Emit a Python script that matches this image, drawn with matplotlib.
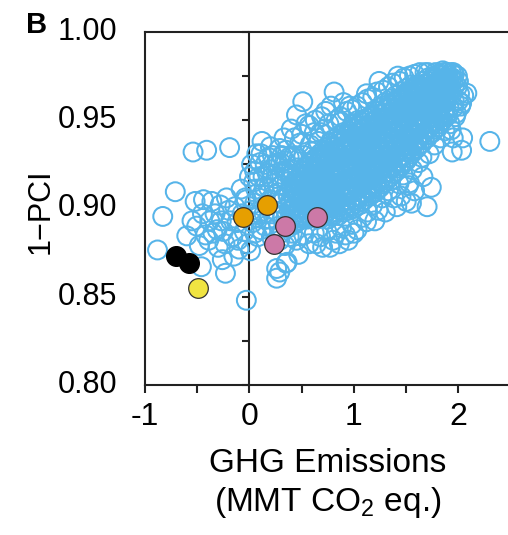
import numpy as np
import matplotlib
matplotlib.use("Agg")
import matplotlib.pyplot as plt
from matplotlib.ticker import MultipleLocator

plt.rcParams['font.family'] = ['Liberation Sans', 'DejaVu Sans']
plt.rcParams['mathtext.fontset'] = 'custom'
plt.rcParams['mathtext.rm'] = 'Liberation Sans'

# scenario runs: (GHG emissions, 1-PCI), scattered points away from the main band
runs_outer = [
    (-0.88, 0.8765), (-0.83, 0.8955), (-0.71, 0.9095), (-0.60, 0.8845), (-0.54, 0.932),
    (-0.41, 0.933), (-0.19, 0.9345), (-0.52, 0.904), (-0.505, 0.890), (-0.46, 0.867),
    (-0.39, 0.882), (-0.36, 0.904), (-0.31, 0.888), (-0.28, 0.902), (-0.235, 0.880),
    (-0.23, 0.8633), (-0.20, 0.899), (-0.11, 0.882), (-0.08, 0.911), (-0.03, 0.848),
    (0.07, 0.931), (0.10, 0.926), (0.12, 0.938), (0.29, 0.934), (0.45, 0.953),
    (0.51, 0.9605), (0.54, 0.948), (0.69, 0.952), (0.81, 0.966),
    (0.26, 0.8605), (0.26, 0.866), (0.29, 0.864), (0.35, 0.869), (0.36, 0.8695),
    (0.47, 0.874), (0.64, 0.880), (0.70, 0.878), (0.77, 0.878), (0.80, 0.882),
    (0.945, 0.882), (1.12, 0.8925), (1.41, 0.901), (1.50, 0.904), (1.55, 0.903),
    (1.70, 0.901), (1.74, 0.912), (1.53, 0.9145), (1.94, 0.932), (1.95, 0.940),
    (2.03, 0.933), (2.04, 0.940), (1.93, 0.9445), (1.98, 0.954), (1.89, 0.954),
    (2.03, 0.9596), (2.05, 0.964), (2.08, 0.9653), (2.30, 0.938),
    (0.87, 0.952), (0.96, 0.958), (1.12, 0.965), (1.24, 0.972), (1.42, 0.975),
    (1.71, 0.977), (1.85, 0.978),
]

# runs below zero emissions and just right of it
runs_left = [
    (-0.45, 0.897), (-0.42, 0.885), (-0.38, 0.893), (-0.35, 0.886), (-0.33, 0.897),
    (-0.30, 0.878), (-0.27, 0.893), (-0.25, 0.887), (-0.22, 0.906), (-0.18, 0.893),
    (-0.16, 0.884), (-0.14, 0.901), (-0.12, 0.892), (-0.10, 0.877), (-0.07, 0.897),
    (-0.05, 0.887), (-0.03, 0.905), (-0.02, 0.880), (-0.48, 0.879), (-0.55, 0.893),
    (-0.44, 0.905), (-0.26, 0.871), (-0.15, 0.873), (0.01, 0.876), (0.03, 0.892),
    (0.05, 0.903), (0.04, 0.915), (0.08, 0.884), (0.10, 0.897), (0.12, 0.908),
    (0.13, 0.918), (0.15, 0.890), (0.16, 0.902), (0.18, 0.912), (0.20, 0.922),
    (0.21, 0.884), (0.22, 0.897), (0.24, 0.908), (0.25, 0.917), (0.27, 0.926),
    (0.28, 0.890), (0.30, 0.903), (0.31, 0.913), (0.33, 0.921), (0.34, 0.879),
    (0.35, 0.895), (0.37, 0.907), (0.38, 0.929), (0.39, 0.917), (0.41, 0.886),
    (0.42, 0.900), (0.43, 0.940), (0.44, 0.911), (0.46, 0.923), (0.47, 0.893),
    (0.02, 0.925), (0.00, 0.918), (-0.04, 0.906), (0.06, 0.911), (0.09, 0.918),
    (0.02, 0.899), (0.05, 0.886), (0.07, 0.895), (0.09, 0.906), (0.11, 0.888),
    (0.14, 0.897), (0.17, 0.920), (0.19, 0.894), (0.20, 0.905), (0.23, 0.888),
    (0.23, 0.914), (0.26, 0.898), (0.27, 0.909), (0.29, 0.918), (0.29, 0.882),
    (0.32, 0.896), (0.33, 0.906), (0.34, 0.927), (0.36, 0.915), (0.37, 0.889),
    (0.38, 0.899), (0.40, 0.919), (0.41, 0.929), (0.43, 0.891), (0.36, 0.922),
    (0.31, 0.930), (0.25, 0.925), (0.18, 0.929), (0.14, 0.912), (0.11, 0.931),
]

# runs hugging the main band
runs_halo = [
    (0.05, 0.921), (0.15, 0.925), (0.22, 0.930), (0.30, 0.926), (0.35, 0.933),
    (0.40, 0.922), (0.43, 0.930), (0.48, 0.937), (0.52, 0.930), (0.58, 0.936),
    (0.62, 0.943), (0.66, 0.938), (0.72, 0.945), (0.76, 0.948), (0.83, 0.950),
    (0.88, 0.949), (0.93, 0.955), (0.98, 0.956), (1.03, 0.958), (1.08, 0.960),
    (1.13, 0.962), (1.18, 0.963), (1.22, 0.966), (1.28, 0.967), (1.33, 0.969),
    (1.37, 0.971), (1.44, 0.972), (1.48, 0.974), (1.53, 0.975), (1.58, 0.976),
    (1.63, 0.977), (1.68, 0.977), (1.78, 0.977), (1.88, 0.977), (1.93, 0.977),
    (0.20, 0.935), (0.33, 0.940), (0.40, 0.945), (0.50, 0.942), (0.57, 0.947),
    (0.63, 0.950), (0.73, 0.955), (0.78, 0.958), (0.90, 0.960), (0.60, 0.932),
    (0.47, 0.928), (0.68, 0.943),
    (0.30, 0.886), (0.38, 0.884), (0.45, 0.882), (0.52, 0.885), (0.57, 0.880),
    (0.62, 0.886), (0.68, 0.884), (0.74, 0.887), (0.83, 0.886), (0.88, 0.889),
    (0.92, 0.885), (0.98, 0.891), (1.03, 0.888), (1.08, 0.895), (1.13, 0.898),
    (1.18, 0.902), (1.23, 0.899), (1.27, 0.906), (1.33, 0.910), (1.38, 0.906),
    (1.43, 0.914), (1.47, 0.919), (1.52, 0.913), (1.56, 0.922), (1.62, 0.926),
    (1.66, 0.918), (1.72, 0.931), (1.77, 0.936), (1.83, 0.940), (1.87, 0.944),
    (1.92, 0.948), (1.97, 0.952), (2.02, 0.958), (1.58, 0.910), (1.45, 0.907),
    (1.30, 0.898), (1.20, 0.893), (1.00, 0.886), (0.86, 0.880), (1.65, 0.929),
]

# dense main band
runs_band = [
    (0.40, 0.894), (0.41, 0.899), (0.39, 0.904), (0.42, 0.908), (0.40, 0.912),
    (0.45, 0.893), (0.46, 0.898), (0.44, 0.902), (0.46, 0.907), (0.45, 0.911), (0.44, 0.916),
    (0.50, 0.895), (0.51, 0.899), (0.49, 0.904), (0.51, 0.909), (0.50, 0.913), (0.49, 0.918), (0.51, 0.921),
    (0.55, 0.894), (0.56, 0.899), (0.54, 0.903), (0.56, 0.907), (0.55, 0.912), (0.54, 0.916), (0.56, 0.920), (0.55, 0.924),
    (0.60, 0.895), (0.61, 0.900), (0.59, 0.904), (0.61, 0.908), (0.60, 0.913), (0.59, 0.917), (0.61, 0.921), (0.60, 0.926),
    (0.65, 0.894), (0.66, 0.898), (0.64, 0.903), (0.66, 0.907), (0.65, 0.911), (0.64, 0.916), (0.66, 0.920), (0.65, 0.925), (0.64, 0.929),
    (0.70, 0.895), (0.71, 0.899), (0.69, 0.904), (0.71, 0.908), (0.70, 0.913), (0.69, 0.917), (0.71, 0.921), (0.70, 0.926), (0.69, 0.930), (0.71, 0.933),
    (0.75, 0.894), (0.76, 0.899), (0.74, 0.903), (0.76, 0.908), (0.75, 0.912), (0.74, 0.917), (0.76, 0.921), (0.75, 0.925), (0.74, 0.930), (0.76, 0.935),
    (0.80, 0.896), (0.81, 0.900), (0.79, 0.905), (0.81, 0.909), (0.80, 0.914), (0.79, 0.918), (0.81, 0.922), (0.80, 0.927), (0.79, 0.931), (0.81, 0.935), (0.80, 0.939),
    (0.85, 0.896), (0.86, 0.901), (0.84, 0.905), (0.86, 0.910), (0.85, 0.914), (0.84, 0.919), (0.86, 0.923), (0.85, 0.928), (0.84, 0.932), (0.86, 0.937), (0.85, 0.941),
    (0.90, 0.898), (0.91, 0.902), (0.89, 0.907), (0.91, 0.911), (0.90, 0.916), (0.89, 0.920), (0.91, 0.925), (0.90, 0.929), (0.89, 0.934), (0.91, 0.938), (0.90, 0.943),
    (0.95, 0.899), (0.96, 0.903), (0.94, 0.908), (0.96, 0.912), (0.95, 0.917), (0.94, 0.921), (0.96, 0.926), (0.95, 0.930), (0.94, 0.935), (0.96, 0.939), (0.95, 0.944),
    (1.00, 0.900), (1.01, 0.905), (0.99, 0.909), (1.01, 0.914), (1.00, 0.918), (0.99, 0.923), (1.01, 0.927), (1.00, 0.932), (0.99, 0.936), (1.01, 0.941), (1.00, 0.945), (0.99, 0.948),
    (1.05, 0.902), (1.06, 0.907), (1.04, 0.911), (1.06, 0.916), (1.05, 0.920), (1.04, 0.925), (1.06, 0.929), (1.05, 0.934), (1.04, 0.938), (1.06, 0.943), (1.05, 0.947), (1.04, 0.950),
    (1.10, 0.905), (1.11, 0.909), (1.09, 0.914), (1.11, 0.918), (1.10, 0.923), (1.09, 0.927), (1.11, 0.932), (1.10, 0.936), (1.09, 0.941), (1.11, 0.945), (1.10, 0.950),
    (1.15, 0.907), (1.16, 0.911), (1.14, 0.916), (1.16, 0.920), (1.15, 0.925), (1.14, 0.929), (1.16, 0.934), (1.15, 0.938), (1.14, 0.943), (1.16, 0.947), (1.15, 0.952),
    (1.20, 0.909), (1.21, 0.914), (1.19, 0.918), (1.21, 0.923), (1.20, 0.927), (1.19, 0.932), (1.21, 0.936), (1.20, 0.941), (1.19, 0.945), (1.21, 0.950), (1.20, 0.955),
    (1.25, 0.912), (1.26, 0.917), (1.24, 0.921), (1.26, 0.926), (1.25, 0.930), (1.24, 0.935), (1.26, 0.939), (1.25, 0.944), (1.24, 0.948), (1.26, 0.953), (1.25, 0.957),
    (1.30, 0.915), (1.31, 0.920), (1.29, 0.924), (1.31, 0.929), (1.30, 0.933), (1.29, 0.938), (1.31, 0.942), (1.30, 0.947), (1.29, 0.951), (1.31, 0.956), (1.30, 0.960),
    (1.35, 0.918), (1.36, 0.923), (1.34, 0.927), (1.36, 0.932), (1.35, 0.936), (1.34, 0.941), (1.36, 0.945), (1.35, 0.950), (1.34, 0.954), (1.36, 0.958), (1.35, 0.962),
    (1.40, 0.921), (1.41, 0.926), (1.39, 0.930), (1.41, 0.935), (1.40, 0.939), (1.39, 0.944), (1.41, 0.948), (1.40, 0.953), (1.39, 0.957), (1.41, 0.961), (1.40, 0.964),
    (1.45, 0.924), (1.46, 0.929), (1.44, 0.933), (1.46, 0.938), (1.45, 0.942), (1.44, 0.947), (1.46, 0.951), (1.45, 0.955), (1.44, 0.959), (1.46, 0.963), (1.45, 0.966),
    (1.50, 0.927), (1.51, 0.932), (1.49, 0.936), (1.51, 0.941), (1.50, 0.945), (1.49, 0.950), (1.51, 0.954), (1.50, 0.958), (1.49, 0.962), (1.51, 0.965), (1.50, 0.968),
    (1.55, 0.931), (1.56, 0.935), (1.54, 0.940), (1.56, 0.944), (1.55, 0.949), (1.54, 0.953), (1.56, 0.957), (1.55, 0.961), (1.54, 0.965), (1.56, 0.968), (1.55, 0.970),
    (1.60, 0.934), (1.61, 0.939), (1.59, 0.943), (1.61, 0.948), (1.60, 0.952), (1.59, 0.956), (1.61, 0.960), (1.60, 0.964), (1.59, 0.967), (1.61, 0.970),
    (1.65, 0.937), (1.66, 0.942), (1.64, 0.946), (1.66, 0.951), (1.65, 0.955), (1.64, 0.959), (1.66, 0.963), (1.65, 0.966), (1.64, 0.969), (1.66, 0.972),
    (1.70, 0.940), (1.71, 0.945), (1.69, 0.949), (1.71, 0.954), (1.70, 0.958), (1.69, 0.962), (1.71, 0.965), (1.70, 0.968), (1.69, 0.971), (1.71, 0.974),
    (1.75, 0.943), (1.76, 0.948), (1.74, 0.952), (1.76, 0.956), (1.75, 0.960), (1.74, 0.964), (1.76, 0.967), (1.75, 0.970), (1.74, 0.973), (1.76, 0.975),
    (1.80, 0.946), (1.81, 0.951), (1.79, 0.955), (1.81, 0.959), (1.80, 0.963), (1.79, 0.966), (1.81, 0.969), (1.80, 0.972), (1.79, 0.974), (1.81, 0.976),
    (1.85, 0.950), (1.86, 0.954), (1.84, 0.958), (1.86, 0.962), (1.85, 0.965), (1.84, 0.968), (1.86, 0.971), (1.85, 0.973), (1.84, 0.975), (1.86, 0.977),
    (1.90, 0.953), (1.91, 0.957), (1.89, 0.961), (1.91, 0.965), (1.90, 0.968), (1.89, 0.971), (1.91, 0.973), (1.90, 0.975), (1.89, 0.977),
    (1.95, 0.957), (1.96, 0.961), (1.94, 0.965), (1.96, 0.969), (1.95, 0.972), (1.94, 0.974), (1.96, 0.976), (1.95, 0.977),
    (2.00, 0.961), (2.01, 0.965), (1.99, 0.969), (2.00, 0.972), (1.99, 0.975),
]

# extra runs packed between the band columns (GHG value -> 1-PCI values)
band_fill_ghg = [0.425, 0.475, 0.525, 0.575, 0.625, 0.675, 0.725, 0.775, 0.825,
                 0.875, 0.925, 0.975, 1.025, 1.075, 1.125, 1.175, 1.225, 1.275,
                 1.325, 1.375, 1.425, 1.475, 1.525, 1.575, 1.625, 1.675, 1.725,
                 1.775, 1.825, 1.875]
band_fill_pci = [
    [0.896, 0.901, 0.906, 0.910, 0.914],
    [0.896, 0.900, 0.905, 0.909, 0.914, 0.918],
    [0.897, 0.902, 0.906, 0.911, 0.915, 0.919, 0.923],
    [0.896, 0.901, 0.905, 0.910, 0.914, 0.918, 0.922, 0.926],
    [0.897, 0.902, 0.906, 0.911, 0.915, 0.919, 0.923, 0.928],
    [0.896, 0.901, 0.905, 0.909, 0.914, 0.918, 0.922, 0.927, 0.931],
    [0.897, 0.901, 0.906, 0.910, 0.915, 0.919, 0.924, 0.928, 0.932],
    [0.896, 0.901, 0.905, 0.910, 0.914, 0.919, 0.923, 0.928, 0.932, 0.937],
    [0.898, 0.903, 0.907, 0.912, 0.916, 0.920, 0.925, 0.929, 0.933, 0.938],
    [0.899, 0.903, 0.908, 0.912, 0.917, 0.921, 0.926, 0.930, 0.935, 0.939],
    [0.900, 0.905, 0.909, 0.914, 0.918, 0.923, 0.927, 0.932, 0.936, 0.941],
    [0.901, 0.906, 0.910, 0.915, 0.919, 0.924, 0.928, 0.933, 0.937, 0.942, 0.946],
    [0.903, 0.907, 0.912, 0.916, 0.921, 0.925, 0.930, 0.934, 0.939, 0.943, 0.947],
    [0.904, 0.909, 0.913, 0.918, 0.922, 0.927, 0.931, 0.936, 0.940, 0.945, 0.949],
    [0.907, 0.911, 0.916, 0.920, 0.925, 0.929, 0.934, 0.938, 0.943, 0.947, 0.951],
    [0.909, 0.913, 0.918, 0.922, 0.927, 0.931, 0.936, 0.940, 0.945, 0.949, 0.953],
    [0.911, 0.916, 0.920, 0.925, 0.929, 0.934, 0.938, 0.943, 0.947, 0.951, 0.955],
    [0.914, 0.918, 0.923, 0.927, 0.932, 0.936, 0.941, 0.945, 0.950, 0.954, 0.958],
    [0.917, 0.921, 0.926, 0.930, 0.935, 0.939, 0.944, 0.948, 0.953, 0.957],
    [0.920, 0.924, 0.929, 0.933, 0.938, 0.942, 0.947, 0.951, 0.956, 0.960],
    [0.923, 0.927, 0.932, 0.936, 0.941, 0.945, 0.950, 0.954, 0.958, 0.962],
    [0.926, 0.930, 0.935, 0.939, 0.944, 0.948, 0.953, 0.957, 0.961, 0.964],
    [0.929, 0.934, 0.938, 0.943, 0.947, 0.951, 0.956, 0.960, 0.963, 0.966],
    [0.933, 0.937, 0.942, 0.946, 0.950, 0.955, 0.959, 0.962, 0.966, 0.969],
    [0.936, 0.940, 0.945, 0.949, 0.953, 0.957, 0.961, 0.965, 0.968],
    [0.939, 0.943, 0.948, 0.952, 0.956, 0.960, 0.964, 0.967, 0.970],
    [0.942, 0.946, 0.951, 0.955, 0.959, 0.963, 0.966, 0.969, 0.972],
    [0.945, 0.949, 0.954, 0.958, 0.962, 0.965, 0.968, 0.971],
    [0.948, 0.952, 0.957, 0.961, 0.964, 0.967, 0.970, 0.973],
    [0.952, 0.956, 0.960, 0.963, 0.966, 0.969, 0.972, 0.974],
]

# highlighted strategies
orange_ghg = [-0.06, 0.17]
orange_pci = [0.895, 0.902]
pink_ghg = [0.34, 0.23, 0.65]
pink_pci = [0.890, 0.880, 0.895]
black_ghg = [-0.70, -0.58]
black_pci = [0.873, 0.869]
yellow_ghg = [-0.49]
yellow_pci = [0.855]

y_ticks = [0.80, 0.85, 0.90, 0.95, 1.00]
x_ticks = [-1, 0, 1, 2]

fill = [(g, p) for g, col in zip(band_fill_ghg, band_fill_pci) for p in col]
cloud = np.array(runs_outer + runs_left + runs_halo + runs_band + fill)

fig = plt.figure(figsize=(5.08, 5.35), dpi=100)
ax = fig.add_axes([0.2854, 0.2804, 0.7185, 0.6598])

ax.scatter(cloud[:, 0], cloud[:, 1], s=185, facecolors='none',
           edgecolors='#56B4E9', linewidths=1.45, zorder=3)

hl = dict(s=200, edgecolors='#333333', linewidths=0.9, zorder=4)
ax.scatter(orange_ghg, orange_pci, c='#E69F00', **hl)
ax.scatter(pink_ghg, pink_pci, c='#CC79A7', **hl)
ax.scatter(black_ghg, black_pci, c='black', s=200, edgecolors='black', zorder=4)
ax.scatter(yellow_ghg, yellow_pci, c='#F0E442', **hl)

ax.set_xlim(-1, 2.493)
ax.set_ylim(0.80, 1.00)

for side in ['left', 'bottom', 'top', 'right']:
    ax.spines[side].set_linewidth(1.5)
    ax.spines[side].set_color('#222222')

# y-axis crosses at zero emissions, labels sit outside the plot box
ax.spines['left'].set_position(('data', 0))
ax.plot([0, 0], [0, 1], transform=ax.transAxes, color='#222222', lw=1.5, clip_on=False)
ax.yaxis.set_major_locator(MultipleLocator(0.025))
ax.tick_params(axis='y', direction='out', length=5, width=1.5, color='#222222',
               labelleft=False)
for v in y_ticks:
    ax.annotate(f'{v:.2f}', xy=(0, v), xycoords=('axes fraction', 'data'),
                xytext=(-20, 0), textcoords='offset points',
                ha='right', va='center', fontsize=22)

ax.set_xticks(x_ticks)
ax.set_xticklabels([str(t) for t in x_ticks], fontsize=23)
ax.xaxis.set_minor_locator(MultipleLocator(0.5))
ax.tick_params(axis='x', which='both', direction='out', length=6, width=1.5,
               color='#222222', pad=6)

ax.set_xlabel('GHG Emissions\n(MMT CO$_2$ eq.)', fontsize=24, linespacing=1.2,
              labelpad=12)
fig.text(0.08, 0.605, '1\u2212PCI', rotation=90, fontsize=22,
         ha='center', va='center')
fig.text(0.052, 0.98, 'B', fontsize=21, fontweight='bold', ha='left', va='top')

fig.savefig('out.png', dpi=100)
